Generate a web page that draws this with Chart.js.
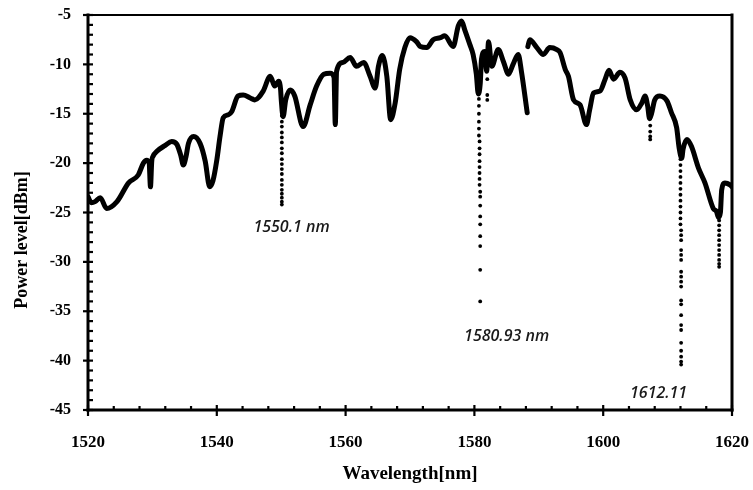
<!DOCTYPE html>
<html>
<head>
<meta charset="utf-8">
<script src="https://cdn.jsdelivr.net/npm/chart.js@4/dist/chart.umd.min.js"></script>
<style>
  html,body{margin:0;padding:0;background:#fff;}
  #wrap{width:753px;height:490px;position:relative;}
</style>
</head>
<body>
<div id="wrap"><canvas id="c" width="753" height="490"></canvas></div>
<script>
// ---- data ----
const wavelength = [
  1520.0,1520.5,1521.1,1521.9,1522.9,1524.5,1526.3,1527.8,1528.6,1529.1,1529.5,1529.7,1529.9,1530.1,1530.7,
  1532.0,1533.0,1533.8,1534.4,1534.8,1535.2,1535.6,1536.4,1537.4,1538.2,1538.9,1539.4,1540.0,1540.5,1541.0,
  1541.8,1542.3,1543.3,1544.1,1545.2,1545.9,1547.2,1548.3,1549.0,1549.6,1549.9,1550.0,1550.3,1550.7,1551.4,
  1552.1,1553.4,1554.5,1555.5,1556.6,1557.6,1558.2,1558.4,1558.6,1559.6,1560.7,1561.7,1562.8,1563.8,1564.6,
  1565.1,1565.7,1566.4,1567.0,1567.7,1568.4,1569.2,1570.0,1571.0,1571.6,1572.6,1573.6,1574.7,1575.4,1576.7,
  1577.5,1578.0,1578.5,1579.3,1579.8,1580.3,1580.6,1580.9,1581.1,1581.6,1581.9,1582.2,1582.7,1583.7,1584.5,
  1585.3,1586.0,1586.8,1587.3,1588.2,1588.25,1588.3,1588.6,1589.7,1590.7,1591.7,1592.8,1593.3,1594.1,1594.6,
  1595.4,1596.4,1597.4,1597.9,1598.5,1599.5,1600.3,1600.9,1601.6,1602.6,1603.4,1604.2,1605.2,1606.0,1606.5,
  1606.9,1607.2,1607.5,1608.0,1608.8,1609.9,1610.6,1611.4,1611.8,1612.2,1612.4,1613.0,1613.7,1614.8,1615.8,
  1617.1,1617.6,1617.9,1618.2,1618.4,1618.9,1619.7,1620.0
];
const power = [
  -23.4,-24.0,-23.9,-23.5,-24.6,-23.9,-22.0,-21.2,-20.0,-19.7,-20.0,-22.4,-19.8,-19.3,-18.8,
  -18.2,-17.8,-18.1,-19.2,-20.2,-19.4,-18.0,-17.3,-18.0,-19.8,-22.4,-21.8,-19.7,-17.3,-15.4,
  -15.1,-14.8,-13.2,-13.1,-13.4,-13.6,-12.7,-11.2,-12.2,-11.7,-12.5,-13.5,-15.3,-13.6,-12.6,
  -13.2,-16.3,-14.1,-12.2,-11.0,-10.9,-11.3,-16.1,-10.7,-9.8,-9.3,-10.2,-9.8,-11.2,-12.4,
  -10.2,-9.1,-11.2,-15.6,-13.9,-10.5,-8.3,-7.3,-7.7,-8.2,-8.3,-7.5,-7.3,-7.1,-8.2,
  -6.1,-5.6,-6.5,-8.0,-9.0,-11.0,-13.0,-12.0,-9.5,-8.7,-10.7,-7.7,-10.2,-8.5,-9.7,
  -11.0,-10.0,-9.0,-10.7,-14.9,null,-8.2,-7.5,-8.3,-9.0,-8.3,-8.5,-8.8,-10.5,-11.2,
  -13.6,-14.1,-16.1,-14.6,-12.9,-12.7,-11.5,-10.6,-11.5,-10.8,-11.4,-13.6,-14.6,-13.9,-13.2,
  -14.2,-15.5,-15.0,-13.6,-13.2,-13.7,-14.9,-16.4,-18.5,-19.5,-18.6,-17.6,-18.3,-20.5,-22.0,
  -24.6,-24.9,-25.5,-25.0,-22.7,-22.0,-22.2,-22.4
];
// sparse measured points inside the deep notches
const dipWavelength = [
  1550.1,1550.1,1550.1,1550.1,1550.1,1550.1,1550.1,1550.1,1550.1,1550.1,1550.1,1550.1,1550.1,1550.1,1550.1,1550.1,1550.1,1550.1,1550.1,1550.1,1550.1,1550.1,
  1580.7,1580.7,1580.7,1580.7,1580.7,1580.7,1580.8,1580.8,1580.8,1580.8,1580.8,1580.8,1580.8,1580.8,1580.9,1580.9,1580.9,1580.9,1580.9,1580.9,1580.9,1580.9,1580.9,
  1582.0,1582.0,1582.0,
  1607.3,1607.3,1607.3,1607.3,1607.3,1607.3,
  1612.0,1612.0,1612.0,1612.0,1612.0,1612.0,1612.0,1612.0,1612.0,1612.0,1612.0,1612.0,1612.0,
  1612.1,1612.1,1612.1,1612.1,1612.1,1612.1,1612.1,1612.1,1612.1,1612.1,1612.1,1612.1,1612.1,1612.1,1612.1,1612.1,1612.1,1612.1,1612.1,1612.1,
  1618.0,1618.0,1618.0,1618.0,1618.0,1618.0,1618.0,1618.0,1618.0,1618.0,1618.0
];
const dipPower = [
  -13.6,-14.1,-14.7,-15.2,-15.8,-16.3,-16.9,-17.4,-17.9,-18.5,-19.0,-19.6,-20.1,-20.6,-21.1,-21.7,-22.2,-22.7,-23.1,-23.5,-23.9,-24.2,
  -13.5,-14.2,-15.0,-15.8,-16.5,-17.2,-17.8,-18.5,-19.1,-19.8,-20.4,-21.0,-21.6,-22.2,-22.9,-23.4,-24.3,-25.4,-26.2,-27.4,-28.4,-30.8,-34.0,
  -11.5,-13.1,-13.6,
  -14.8,-15.5,-16.2,-16.8,-17.3,-17.6,
  -19.0,-19.6,-20.2,-20.8,-21.4,-22.0,-22.6,-23.2,-23.8,-24.4,-25.0,-25.6,-26.2,
  -26.8,-27.3,-27.8,-28.8,-29.3,-29.8,-31.0,-31.5,-32.0,-32.5,-33.9,-34.3,-35.4,-36.4,-36.9,-38.2,-39.0,-39.6,-40.1,-40.4,
  -25.8,-26.3,-26.8,-27.3,-27.8,-28.3,-28.8,-29.3,-29.8,-30.2,-30.5
];
const xTicks = [1520,1540,1560,1580,1600,1620];
const yTicks = [-45,-40,-35,-30,-25,-20,-15,-10,-5];
const noteText = ['1550.1 nm','1580.93 nm','1612.11'];
const noteX = [1551.6,1585.0,1608.6];
const noteY = [-26.5,-37.5,-43.3];
const xTitle = 'Wavelength[nm]';
const yTitle = 'Power level[dBm]';

// ---- build ----
const mainData = wavelength.map((w,i)=>({x:w,y:power[i]}));
const dipData = dipWavelength.map((w,i)=>({x:w,y:dipPower[i]}));

const SERIF = '"Liberation Serif","Times New Roman",serif';

const decor = {
  id:'decor',
  afterDraw(chart){
    const {ctx, chartArea:a, scales:{x,y}} = chart;
    ctx.save();
    ctx.strokeStyle='#000';
    ctx.lineWidth=2.2;
    for(let v=-45; v<=-5; v+=1){
      const py = y.getPixelForValue(v);
      const major = (v%5===0);
      ctx.beginPath();
      ctx.moveTo(a.left-(major?5:0),py); ctx.lineTo(a.left+5,py);
      ctx.stroke();
    }
    for(let v=1520; v<=1620; v+=4){
      const px = x.getPixelForValue(v);
      const major = ((v-1520)%20===0);
      ctx.beginPath();
      ctx.moveTo(px,a.bottom+(major?6:0)); ctx.lineTo(px,a.bottom-(major?5:4));
      ctx.stroke();
    }
    ctx.fillStyle='#1a1a1a';
    ctx.font='italic 600 16px "Open Sans", sans-serif';
    ctx.textAlign='center'; ctx.textBaseline='middle';
    noteText.forEach((t,i)=>{
      ctx.fillText(t, x.getPixelForValue(noteX[i]), y.getPixelForValue(noteY[i]));
    });
    ctx.fillStyle='#000';
    ctx.font='bold 19px '+SERIF;
    ctx.fillText(xTitle,(a.left+a.right)/2,474);
    ctx.save();
    ctx.translate(22,240);
    ctx.rotate(-Math.PI/2);
    ctx.font='bold 18px '+SERIF;
    ctx.fillText(yTitle,0,0);
    ctx.restore();
    // frame and axes
    ctx.strokeStyle='#000';
    ctx.lineCap='square';
    ctx.lineWidth=2;
    ctx.beginPath(); ctx.moveTo(a.left,a.top); ctx.lineTo(a.right,a.top); ctx.stroke();
    ctx.lineWidth=3;
    ctx.beginPath(); ctx.moveTo(a.right,a.top); ctx.lineTo(a.right,a.bottom); ctx.stroke();
    ctx.beginPath(); ctx.moveTo(a.left,a.top); ctx.lineTo(a.left,a.bottom); ctx.stroke();
    ctx.beginPath(); ctx.moveTo(a.left,a.bottom); ctx.lineTo(a.right,a.bottom); ctx.stroke();
    ctx.restore();
  }
};

new Chart(document.getElementById('c'),{
  type:'scatter',
  data:{datasets:[
    {label:'trace',data:mainData,showLine:true,borderColor:'#000',backgroundColor:'#000',
     borderWidth:5,pointRadius:0,cubicInterpolationMode:'monotone',spanGaps:false,borderJoinStyle:'round',borderCapStyle:'round'},
    {label:'notch points',data:dipData,showLine:false,borderColor:'#000',backgroundColor:'#000',
     pointRadius:1.9,pointBorderWidth:0,pointStyle:'circle'}
  ]},
  options:{
    responsive:false,animation:false,
    layout:{padding:{top:15,right:21,left:0,bottom:0}},
    plugins:{legend:{display:false},tooltip:{enabled:false}},
    scales:{
      x:{type:'linear',min:1520,max:1620,
        afterBuildTicks(s){s.ticks=xTicks.map(v=>({value:v}));},
        afterFit(s){s.height=80;s.paddingLeft=0;s.paddingRight=0;},
        grid:{display:false,drawTicks:false},border:{display:false},
        ticks:{padding:22,color:'#000',font:{family:SERIF,size:17,weight:'bold'},maxRotation:0,
          callback:v=>String(v)}},
      y:{type:'linear',min:-45,max:-5,
        afterBuildTicks(s){s.ticks=yTicks.map(v=>({value:v}));},
        afterFit(s){s.width=88;s.paddingTop=0;s.paddingBottom=0;},
        grid:{display:false,drawTicks:false},border:{display:false},
        ticks:{padding:17,color:'#000',font:{family:SERIF,size:16,weight:'bold'},
          callback:v=>String(v)}}
    }
  },
  plugins:[decor]
});
</script>
</body>
</html>
